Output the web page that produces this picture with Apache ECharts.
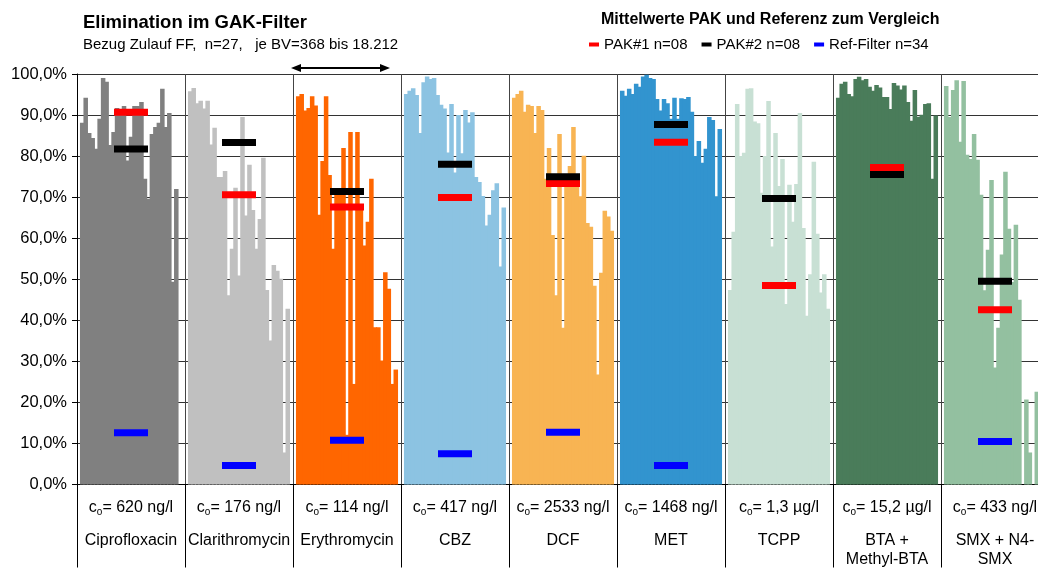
<!DOCTYPE html>
<html>
<head>
<meta charset="utf-8">
<script src="https://cdn.jsdelivr.net/npm/echarts@6/dist/echarts.min.js"></script>
<style>html,body{margin:0;padding:0;background:#fff;overflow:hidden;width:1038px;height:568px}#c{width:1049px;height:568px}</style>
</head>
<body>
<div id="c"></div>
<script>
// ---- data ----
const groups = ['Ciprofloxacin','Clarithromycin','Erythromycin','CBZ','DCF','MET','TCPP','BTA +\nMethyl-BTA','SMX + N4-\nSMX'];
const conc = ['620 ng/l','176 ng/l','114 ng/l','417 ng/l','2533 ng/l','1468 ng/l','1,3 µg/l','15,2 µg/l','433 ng/l'];
const cipro = [88.1,94.2,85.6,84.4,81.8,89.1,99.0,98.1,82.7,85.9,91.7,90.7,92.2,78.9,84.7,92.2,92.2,93.2,74.5,69.6,85.4,87.1,88.1,96.4,87.1,90.5,49.4,72.0];
const clari = [95.8,96.6,92.9,93.5,91.6,93.5,82.8,86.9,74.9,74.9,76.4,46.1,57.4,72.3,50.9,89.5,65.5,77.9,66.9,57.4,64.7,79.6,47.4,35.1,53.5,52.1,50.1,7.8,42.8];
const ery = [94.6,95.1,91.1,91.7,94.6,92.3,65.7,78.8,94.6,75.4,57.4,70.5,70.5,82.0,12.1,85.9,24.5,85.9,67.9,58.2,64.0,74.5,38.3,38.3,30.2,51.7,47.7,24.5,28.0];
const cbz = [95.1,95.9,96.5,94.9,85.6,98.0,99.4,98.8,99.0,94.9,92.5,91.6,80.9,92.7,76.0,90.0,80.7,91.2,88.2,90.7,74.9,73.7,70.3,63.1,65.7,71.7,73.4,53.1,67.5];
const dcf = [94.2,95.1,95.9,90.8,92.5,92.2,85.6,92.2,91.2,74.5,82.0,60.8,46.1,85.4,38.2,73.6,77.6,87.1,75.0,70.2,80.1,63.7,62.8,48.4,26.8,51.6,66.7,65.3,61.8];
const met = [95.9,94.7,96.4,95.1,97.6,96.9,99.4,99.8,99.0,98.8,93.9,91.1,93.9,92.9,89.1,94.2,89.1,94.1,93.9,94.4,90.8,80.0,83.7,78.4,81.8,89.5,88.8,70.2,86.6];
const tcpp = [47.4,61.6,92.7,80.0,80.8,96.4,96.5,88.4,88.0,71.1,80.0,93.4,58.0,85.6,72.7,79.3,44.0,73.0,64.0,73.2,90.5,62.5,41.1,51.2,78.6,61.1,46.8,51.2,42.8];
const bta = [94.2,97.6,98.1,95.1,94.6,98.8,99.3,98.5,98.8,96.9,95.9,97.3,96.7,94.4,94.4,91.5,97.8,97.2,96.2,97.2,93.2,88.6,96.1,89.6,90.1,92.7,92.9,74.5,89.9];
const smx = [97.1,89.5,96.1,98.5,83.5,98.3,80.3,79.3,85.4,79.1,70.6,47.3,57.2,74.2,28.5,38.2,56.0,76.2,62.3,49.3,63.3,45.0,null,20.7,7.8,null,22.6];
const pak1 = [90.7,70.6,67.6,69.9,73.3,83.4,48.5,77.2,42.6];
const pak2 = [81.7,83.3,71.4,78.0,75.0,87.7,69.7,75.5,49.5];
const ref = [12.6,4.6,10.8,7.5,12.7,4.6,null,null,10.5];
const yTicks = [0,10,20,30,40,50,60,70,80,90,100];

// ---- styles ----
const barColors = ['#808080','#c0c0c0','#ff6600','#8cc3e2','#f8b453','#3294cf','#c8e0d4','#4a7c5a','#93c0a0'];
const groupData = [cipro, clari, ery, cbz, dcf, met, tcpp, bta, smx];
const SLOTS = 31;

const cats = [];
const barData = [];
groupData.forEach((arr, g) => {
  for (let s = 0; s < SLOTS; s++) {
    cats.push(g + '_' + s);
    const i = s - 1;
    if (i >= 0 && i < arr.length && arr[i] != null) {
      barData.push({ value: arr[i], itemStyle: { color: barColors[g] } });
    } else {
      barData.push(null);
    }
  }
});

const chart = echarts.init(document.getElementById('c'), null, { renderer: 'canvas' });
const FONT = 'Liberation Sans, Arial, sans-serif';
chart.setOption({
  animation: false,
  textStyle: { fontFamily: FONT, color: '#000' },
  title: [
    { text: 'Elimination im GAK-Filter', subtext: 'Bezug Zulauf FF,  n=27,   je BV=368 bis 18.212',
      left: 83, top: 13, padding: 0, itemGap: 5,
      textStyle: { fontSize: 18.5, fontWeight: 'bold', color: '#000', fontFamily: FONT },
      subtextStyle: { fontSize: 15, color: '#000', fontFamily: FONT } },
    { text: 'Mittelwerte PAK und Referenz zum Vergleich', left: 601, top: 12, padding: 0,
      textStyle: { fontSize: 16, fontWeight: 'bold', color: '#000', fontFamily: FONT } }
  ],
  legend: {
    left: 589, top: 37, padding: 0, itemWidth: 10, itemHeight: 4, itemGap: 14,
    icon: 'rect',
    textStyle: { fontSize: 15, color: '#000', fontFamily: FONT },
    data: ['PAK#1 n=08', 'PAK#2 n=08', 'Ref-Filter n=34']
  },
  grid: { left: 77, right: 0, top: 74, bottom: 83, containLabel: false },
  xAxis: [
    { type: 'category', data: cats, show: false, boundaryGap: true },
    { type: 'category', data: groups, position: 'bottom', boundaryGap: true,
      axisLine: { show: true, lineStyle: { color: '#000', width: 1 } },
      axisTick: { show: true, length: 83, interval: 0, lineStyle: { color: '#000' } },
      splitLine: { show: true, interval: 0, lineStyle: { color: '#444', width: 1 } },
      axisLabel: {
        interval: 0, margin: 0, verticalAlign: 'top', color: '#000',
        formatter: function (v, idx) {
          return '{c|c}{o|o}{v|= ' + conc[idx] + '}\n' + v.split('\n').map(s => '{n|' + s + '}').join('\n');
        },
        rich: {
          c: { fontSize: 16, lineHeight: 47, fontFamily: FONT, color: '#000' },
          o: { fontSize: 10, lineHeight: 10, padding: [9, 0, 0, 0], fontFamily: FONT, color: '#000' },
          v: { fontSize: 16, lineHeight: 47, fontFamily: FONT, color: '#000' },
          n: { fontSize: 16, lineHeight: 19, fontFamily: FONT, color: '#000' }
        }
      }
    }
  ],
  yAxis: {
    type: 'value', min: yTicks[0], max: yTicks[yTicks.length - 1], interval: 10,
    axisLine: { show: true, lineStyle: { color: '#000' } },
    axisTick: { show: true, length: 5, lineStyle: { color: '#000' } },
    splitLine: { show: true, lineStyle: { color: '#333', width: 1 } },
    axisLabel: { margin: 10, fontSize: 16.5, color: '#000',
      formatter: v => v.toFixed(1).replace('.', ',') + '%' }
  },
  series: [
    { type: 'bar', xAxisIndex: 0, data: barData, barWidth: '130%', barGap: '-100%', z: 2 },
    { name: 'PAK#1 n=08', type: 'scatter', xAxisIndex: 1, data: pak1, symbol: 'rect', symbolSize: [34, 7],
      itemStyle: { color: '#ff0000', opacity: 1 }, z: 5 },
    { name: 'PAK#2 n=08', type: 'scatter', xAxisIndex: 1, data: pak2, symbol: 'rect', symbolSize: [34, 7],
      itemStyle: { color: '#000000', opacity: 1 }, z: 6 },
    { name: 'Ref-Filter n=34', type: 'scatter', xAxisIndex: 1, data: ref, symbol: 'rect', symbolSize: [34, 7],
      itemStyle: { color: '#0000ff', opacity: 1 }, z: 7 }
  ],
  graphic: [
    { type: 'line', shape: { x1: 298, y1: 68, x2: 383, y2: 68 }, style: { stroke: '#000', lineWidth: 2 } },
    { type: 'polygon', shape: { points: [[291, 68], [301, 64], [301, 72]] }, style: { fill: '#000' } },
    { type: 'polygon', shape: { points: [[390, 68], [380, 64], [380, 72]] }, style: { fill: '#000' } }
  ]
});
</script>
</body>
</html>
